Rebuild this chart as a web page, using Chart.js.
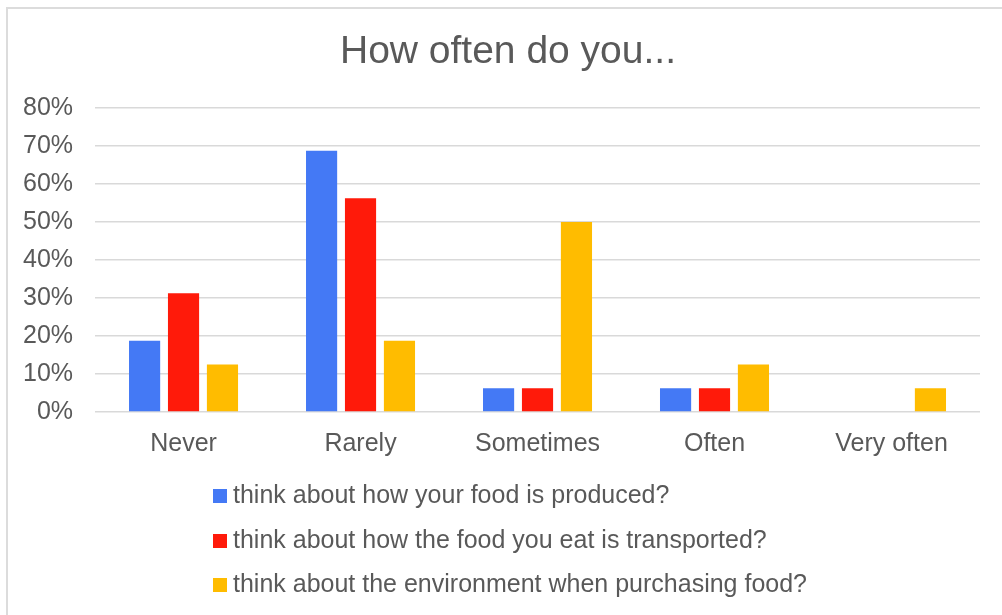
<!DOCTYPE html>
<html>
<head>
<meta charset="utf-8">
<title>How often do you...</title>
<script src="https://cdn.jsdelivr.net/npm/chart.js@4/dist/chart.umd.min.js"></script>
<style>
  html, body { margin: 0; padding: 0; background: #fff; }
  body { width: 1002px; height: 615px; overflow: hidden; position: relative; }
  #frame {
    position: absolute; left: 6px; top: 7px; right: -2px; bottom: -2px;
    border-top: 2px solid #dcdcdc; border-left: 2px solid #dcdcdc;
  }
  #wrap { position: absolute; left: 0; top: 0; width: 1002px; height: 615px; }
  #title {
    position: absolute; left: 14px; width: 988px; top: 27px; height: 46px;
    line-height: 46px; text-align: center;
    font-family: "Liberation Sans", Arial, sans-serif; font-size: 39px; color: #595959;
  }
  #legend {
    position: absolute; left: 213px; top: 472px;
    font-family: "Liberation Sans", Arial, sans-serif; font-size: 25px; color: #595959;
  }
  #legend div { height: 44.5px; line-height: 44px; white-space: nowrap; }
  #legend span.box {
    display: inline-block; width: 14px; height: 14px; margin-right: 6px; vertical-align: 0px;
  }
</style>
</head>
<body>
<div id="frame"></div>
<div id="wrap"><canvas id="chart"></canvas></div>
<div id="title">How often do you...</div>
<div id="legend"></div>
<script>
const categories = ['Never', 'Rarely', 'Sometimes', 'Often', 'Very often'];
const produced = [18.75, 68.75, 6.25, 6.25, 0];
const transported = [31.25, 56.25, 6.25, 6.25, 0];
const environment = [12.5, 18.75, 50, 12.5, 6.25];
const seriesNames = [
    'think about how your food is produced?',
    'think about how the food you eat is transported?',
    'think about the environment when purchasing food?'
];
const yTicks = [0, 10, 20, 30, 40, 50, 60, 70, 80];

const colors = ['#4479f5', '#ff1a0a', '#ffbc00'];
const font = 'Liberation Sans, Arial, sans-serif';

const ctx = document.getElementById('chart').getContext('2d');
const chart = new Chart(ctx, {
    type: 'bar',
    data: {
        labels: categories,
        datasets: [produced, transported, environment].map((values, i) => ({
            label: seriesNames[i],
            data: values,
            backgroundColor: colors[i],
            categoryPercentage: 0.66,
            barPercentage: 0.8
        }))
    },
    options: {
        responsive: true,
        maintainAspectRatio: false,
        animation: false,
        layout: { padding: { left: 1, right: 22, top: 108, bottom: 147 } },
        plugins: {
            legend: { display: false },
            tooltip: { enabled: false },
            title: { display: false }
        },
        scales: {
            x: {
                grid: { display: false },
                border: { display: false },
                ticks: {
                    color: '#595959',
                    font: { family: font, size: 25 },
                    padding: 9
                }
            },
            y: {
                min: 0,
                max: 80,
                afterBuildTicks: axis => { axis.ticks = yTicks.map(v => ({ value: v })); },
                grid: { color: '#d9d9d9', lineWidth: 1.6, drawTicks: false },
                border: { display: false },
                ticks: {
                    color: '#595959',
                    font: { family: font, size: 25 },
                    padding: 22,
                    callback: v => v + '%'
                }
            }
        }
    }
});

// legend stacked in one column below the plot
const legendDiv = document.getElementById('legend');
legendDiv.innerHTML = chart.data.datasets.map(ds =>
    `<div><span class="box" style="background:${ds.backgroundColor}"></span>${ds.label}</div>`
).join('');
</script>
</body>
</html>
